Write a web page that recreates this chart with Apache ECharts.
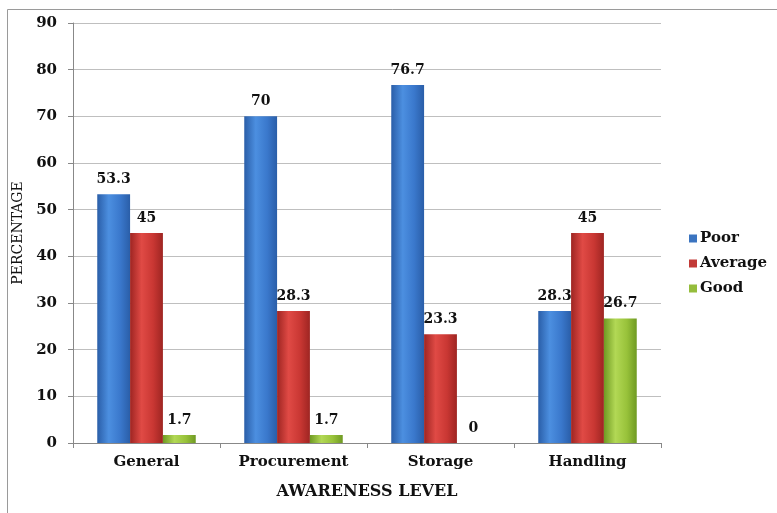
<!DOCTYPE html>
<html>
<head>
<meta charset="utf-8">
<script src="https://cdn.jsdelivr.net/npm/echarts@6/dist/echarts.min.js"></script>
<style>
html,body{margin:0;padding:0;background:#fff;}
#chart{width:777px;height:513px;}
</style>
</head>
<body>
<div id="chart"></div>
<script>
const categories = ['General', 'Procurement', 'Storage', 'Handling'];
const poor = [53.3, 70, 76.7, 28.3];
const average = [45, 28.3, 23.3, 45];
const good = [1.7, 1.7, 0, 26.7];
const yTicks = { min: 0, max: 90, interval: 10 };

const FONT = '"DejaVu Serif", "Liberation Serif", serif';

// horizontal shading gives the bars a rounded, lit look
function shade(dark, light, mid) {
  return new echarts.graphic.LinearGradient(0, 0, 1, 0, [
    { offset: 0, color: dark },
    { offset: 0.35, color: light },
    { offset: 0.7, color: mid },
    { offset: 1, color: dark }
  ]);
}

function barSeries(name, data, fill) {
  return {
    name: name,
    type: 'bar',
    data: data,
    barGap: '0%',
    barCategoryGap: '33%',
    itemStyle: { color: fill },
    label: {
      show: true,
      position: 'top',
      distance: 8,
      color: '#111',
      fontFamily: FONT,
      fontWeight: 'bold',
      fontSize: 14
    }
  };
}

const chart = echarts.init(document.getElementById('chart'));
chart.setOption({
  backgroundColor: '#fff',
  animation: false,
  graphic: [{
    type: 'rect',
    shape: { x: 7.5, y: 9.5, width: 800, height: 520 },
    style: { fill: 'none', stroke: '#9a9a9a', lineWidth: 1 },
    z: -1
  }],
  grid: { left: 73, right: 116, top: 23, bottom: 70, containLabel: false, outerBoundsMode: 'none' },
  legend: {
    orient: 'vertical',
    left: 684,
    top: 226,
    itemWidth: 8,
    itemHeight: 8,
    itemGap: 10,
    icon: 'rect',
    textStyle: { fontFamily: FONT, fontWeight: 'bold', fontSize: 15, color: '#111', padding: [0, 0, 0, -2] },
    data: [
      { name: 'Poor', itemStyle: { color: '#3b74c0' } },
      { name: 'Average', itemStyle: { color: '#c23a37' } },
      { name: 'Good', itemStyle: { color: '#95bd3c' } }
    ]
  },
  xAxis: {
    type: 'category',
    data: categories,
    name: 'AWARENESS LEVEL',
    nameLocation: 'middle',
    nameGap: 41,
    nameTextStyle: { fontFamily: FONT, fontWeight: 'bold', fontSize: 16, color: '#111' },
    axisLine: { lineStyle: { color: '#888' } },
    axisTick: { show: true, length: 5, lineStyle: { color: '#888' } },
    axisLabel: { fontFamily: FONT, fontWeight: 'bold', fontSize: 15, color: '#111', margin: 12 }
  },
  yAxis: {
    type: 'value',
    min: yTicks.min,
    max: yTicks.max,
    interval: yTicks.interval,
    name: 'PERCENTAGE',
    nameLocation: 'middle',
    nameGap: 46,
    nameRotate: 90,
    nameTextStyle: { fontFamily: FONT, fontSize: 14, color: '#111' },
    axisLine: { show: true, lineStyle: { color: '#888' } },
    axisTick: { show: true, length: 5, lineStyle: { color: '#888' } },
    splitLine: { lineStyle: { color: '#bfbfbf' } },
    axisLabel: { fontFamily: FONT, fontWeight: 'bold', fontSize: 15, color: '#111', margin: 16 }
  },
  series: [
    barSeries('Poor', poor, shade('#2a5ea8', '#4c8fe0', '#3a78cc')),
    barSeries('Average', average, shade('#9e2522', '#e04a45', '#c93733')),
    barSeries('Good', good, shade('#6f9a23', '#b2d855', '#98c23a'))
  ]
});
</script>
</body>
</html>
